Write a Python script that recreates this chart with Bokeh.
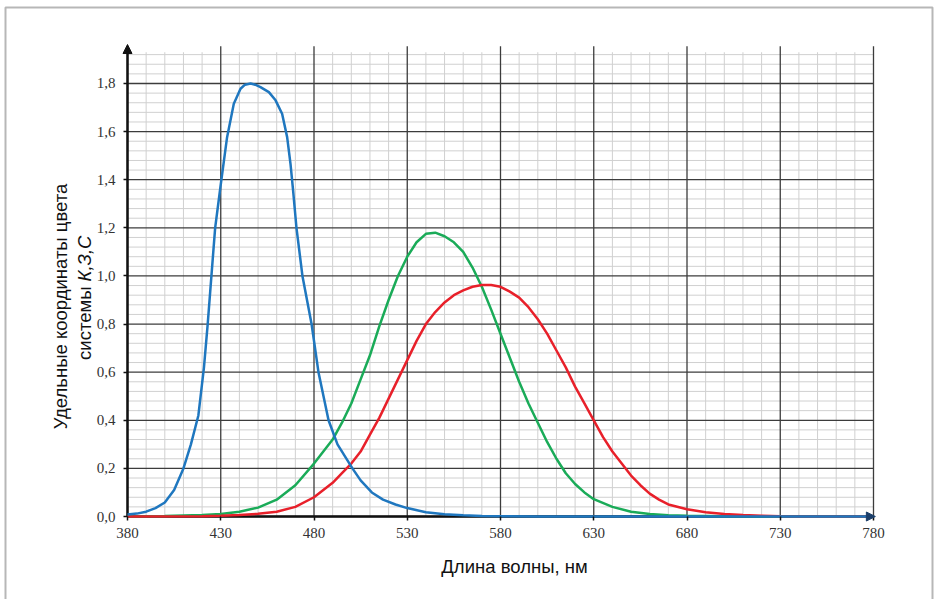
import math
from bokeh.plotting import figure
from bokeh.models import (FixedTicker, CustomJSTickFormatter, Label, Arrow, NormalHead,
                          Range1d, BoxAnnotation)
from bokeh.embed import file_html
from bokeh.resources import INLINE

# ---- data ----
wl_blue = [380, 385, 390, 395, 400, 405, 410, 414, 418, 421, 423, 425, 427, 430, 433.4, 437,
           440.6, 443, 446, 448.5, 451.3, 455.8, 459.4, 462.9, 465.6, 467.4, 468.8, 470.6, 473.8,
           478.7, 482.4, 487.8, 492.6, 500.6, 505, 511, 517, 523.7, 530, 540, 550, 560, 570, 580,
           600, 650, 700, 780]
blue = [0.008, 0.012, 0.02, 0.035, 0.058, 0.11, 0.2, 0.3, 0.42, 0.62, 0.8, 1.0, 1.2, 1.38, 1.577, 1.716,
        1.778, 1.795, 1.80, 1.795, 1.785, 1.764, 1.73, 1.674, 1.577, 1.466, 1.355, 1.2, 1.0,
        0.8, 0.6, 0.4, 0.3, 0.2, 0.15, 0.1, 0.07, 0.05, 0.035, 0.018, 0.009, 0.005, 0.002, 0.001,
        0.0, 0.0, 0.0, 0.0]

wl_green = [380, 400, 420, 430, 440, 450, 460, 470, 480, 485, 490, 495, 500, 505, 510, 515,
            520, 525, 530, 535, 540, 545, 550, 555, 560, 565, 570, 575, 580, 585, 590, 595,
            600, 605, 610, 615, 620, 625, 630, 640, 650, 660, 670, 680, 700, 720, 780]
green = [0.0, 0.002, 0.006, 0.01, 0.02, 0.037, 0.07, 0.13, 0.22, 0.27, 0.32, 0.39, 0.47, 0.57, 0.67, 0.79,
         0.90, 1.00, 1.08, 1.14, 1.175, 1.18, 1.165, 1.14, 1.10, 1.035, 0.955, 0.86, 0.76, 0.66, 0.56, 0.47,
         0.39, 0.31, 0.24, 0.18, 0.135, 0.10, 0.072, 0.04, 0.02, 0.01, 0.005, 0.003, 0.001, 0.0, 0.0]

wl_red = [380, 420, 430, 440, 450, 460, 470, 480, 490, 495, 500, 505, 510, 515, 520, 525, 530,
          535, 540, 545, 550, 555, 560, 565, 570, 575, 580, 585, 590, 595, 600, 605, 610, 615,
          620, 625, 630, 635, 640, 645, 650, 655, 660, 665, 670, 680, 690, 700, 710, 720, 730,
          740, 780]
red = [0.0, 0.001, 0.003, 0.006, 0.011, 0.02, 0.04, 0.08, 0.14, 0.18, 0.22, 0.27, 0.34, 0.41, 0.49, 0.57, 0.65,
       0.73, 0.80, 0.85, 0.89, 0.92, 0.94, 0.955, 0.962, 0.962, 0.955, 0.935, 0.91, 0.87, 0.82, 0.76, 0.69, 0.62,
       0.54, 0.47, 0.40, 0.33, 0.27, 0.22, 0.17, 0.13, 0.095, 0.07, 0.05, 0.03, 0.018, 0.01, 0.006, 0.003, 0.001,
       0.0, 0.0]

x_ticks = [380, 430, 480, 530, 580, 630, 680, 730, 780]
y_ticks = [0.0, 0.2, 0.4, 0.6, 0.8, 1.0, 1.2, 1.4, 1.6, 1.8]
x_title = "Длина волны, нм"
y_title_1 = "Удельные координаты цвета"
y_title_2a = "системы"
y_title_2b = "К,З,С"

x_minor = [v for v in range(390, 780, 10) if (v - 380) % 50 != 0]
y_minor = [round(k * 0.04, 2) for k in range(1, 49) if k % 5 != 0]

# ---- layout: the frame covers the whole canvas; axes sit at fixed data positions ----
W, H = 934, 599
PX_X = 1.865          # pixels per nm
PX_Y = 240.56         # pixels per unit
X0_PX, Y0_PX = 127, 516   # pixel position of the origin (380, 0)
x_start = x_ticks[0] - X0_PX / PX_X
x_end = x_ticks[0] + (W - X0_PX) / PX_X
y_end = Y0_PX / PX_Y
y_start = -(H - Y0_PX) / PX_Y

GRID_TOP_MINOR = 1.93
GRID_TOP_MAJOR = 1.955
AXIS_TOP = 1.962

p = figure(width=W, height=H, title=None,
           x_range=Range1d(x_start, x_end), y_range=Range1d(y_start, y_end),
           output_backend="svg", toolbar_location=None,
           min_border_left=0, min_border_right=0, min_border_top=0, min_border_bottom=0)
p.outline_line_color = None
p.background_fill_color = "white"
p.border_fill_color = "white"
p.xgrid.visible = False
p.ygrid.visible = False

# axes at fixed positions
p.xaxis.fixed_location = y_ticks[0]
p.yaxis.fixed_location = x_ticks[0]
p.xaxis.ticker = FixedTicker(ticks=x_ticks)
p.yaxis.ticker = FixedTicker(ticks=y_ticks)
p.yaxis.formatter = CustomJSTickFormatter(code="return tick.toFixed(1).replace('.', ',');")
for ax in (p.xaxis, p.yaxis):
    ax.axis_line_color = None
    ax.minor_tick_line_color = None
    ax.major_tick_in = 0
    ax.major_tick_out = 4
    ax.major_tick_line_color = "#111"
    ax.major_tick_line_width = 1.5
    ax.major_label_text_font = "Liberation Serif"
    ax.major_label_text_font_size = "15px"
    ax.major_label_text_color = "#333333"
p.xaxis.major_label_standoff = 7
p.yaxis.major_label_standoff = 8

# grid drawn as segments from the tick arrays: minor first, majors on top
nxm, nym = len(x_minor), len(y_minor)
p.segment(x0=x_minor, y0=[y_ticks[0]] * nxm, x1=x_minor, y1=[GRID_TOP_MINOR] * nxm,
          line_color="#d0d0d0", line_width=1)
p.segment(x0=[x_ticks[0]] * nym, y0=y_minor, x1=[x_ticks[-1]] * nym, y1=y_minor,
          line_color="#d0d0d0", line_width=1)
p.segment(x0=x_ticks, y0=[y_ticks[0]] * len(x_ticks), x1=x_ticks, y1=[GRID_TOP_MAJOR] * len(x_ticks),
          line_color="#3c3c3c", line_width=1.3)
p.segment(x0=[x_ticks[0]] * len(y_ticks), y0=y_ticks, x1=[x_ticks[-1]] * len(y_ticks), y1=y_ticks,
          line_color="#3c3c3c", line_width=1.3)

# axis lines
p.segment(x0=[x_ticks[0], x_ticks[0]], y0=[y_ticks[0], y_ticks[0]],
          x1=[x_ticks[0], x_ticks[-1]], y1=[AXIS_TOP - 0.02, y_ticks[0]],
          line_color="#111", line_width=2.5)

# curves
p.line(wl_green, green, line_color="#1aab58", line_width=2.5)
p.line(wl_red, red, line_color="#e8202a", line_width=2.5)
p.line(wl_blue, blue, line_color="#1f77bf", line_width=2.5)

# arrow heads
p.add_layout(Arrow(x_start=x_ticks[0], y_start=AXIS_TOP - 0.05, x_end=x_ticks[0], y_end=AXIS_TOP,
                   line_alpha=0, end=NormalHead(size=9, fill_color="#111", line_color="#111")))
p.add_layout(Arrow(x_start=x_ticks[-1] - 5, y_start=0, x_end=x_ticks[-1] + 1, y_end=0,
                   line_alpha=0, end=NormalHead(size=9, fill_color="#1c3f6a", line_color="#1c3f6a")))

# outer frame of the picture
p.add_layout(BoxAnnotation(left=5, right=932, top=7, bottom=H + 20,
                           left_units="canvas", right_units="canvas",
                           top_units="canvas", bottom_units="canvas",
                           fill_alpha=0, line_color="#111", line_width=2))

# titles
txt = dict(text_font="Liberation Sans", text_font_size="18.5px", text_color="#111",
           text_baseline="middle")
p.add_layout(Label(x=x_ticks[0] + (514 - X0_PX) / PX_X, y=-(566 - Y0_PX) / PX_Y,
                   text=x_title, text_align="center", **txt))
lx1 = x_ticks[0] + (60 - X0_PX) / PX_X
lx2 = x_ticks[0] + (84 - X0_PX) / PX_X
p.add_layout(Label(x=lx1, y=(Y0_PX - 306) / PX_Y, text=y_title_1, angle=math.pi / 2,
                   text_align="center", **txt))
p.add_layout(Label(x=lx2, y=(Y0_PX - 286) / PX_Y, text=y_title_2a, angle=math.pi / 2,
                   text_align="right", **txt))
p.add_layout(Label(x=lx2, y=(Y0_PX - 281) / PX_Y, text=y_title_2b, angle=math.pi / 2,
                   text_align="left", text_font_style="italic", **txt))

open("out.html", "w").write(file_html(p, INLINE))
